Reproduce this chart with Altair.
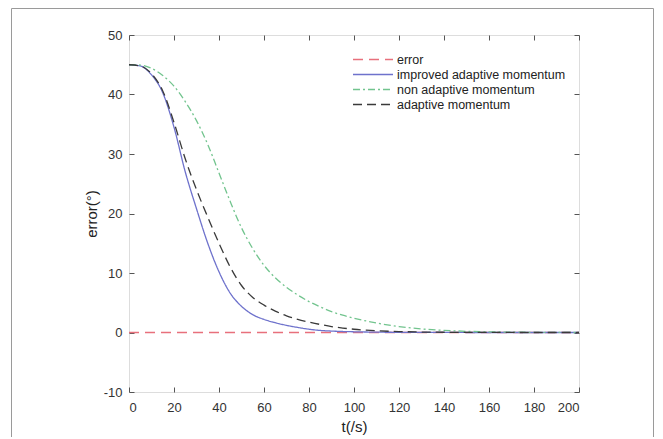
import altair as alt
import pandas as pd

# ---- data ----
t_vals = [0, 5, 10, 15, 20, 25, 30, 35, 40, 45, 50, 55, 60, 65, 70, 75, 80, 85, 90, 95, 100,
          110, 120, 130, 140, 150, 160, 170, 180, 190, 200]

err_ref = [0] * len(t_vals)
improved = [45, 44.8, 43.3, 40.3, 34.5, 27.0, 20.8, 15.0, 10.2, 6.6, 4.4, 3.0, 2.2, 1.65, 1.2,
            0.85, 0.55, 0.35, 0.24, 0.17, 0.12, 0.06, 0.03, 0.015, 0.008, 0.004, 0.002, 0.001, 0, 0, 0]
non_adaptive = [45, 44.95, 44.4, 43.2, 41.4, 38.8, 35.6, 31.6, 26.8, 22.0, 17.6, 14.1, 11.3, 9.2, 7.6,
                6.3, 5.2, 4.3, 3.5, 2.9, 2.4, 1.6, 1.0, 0.6, 0.36, 0.2, 0.11, 0.06, 0.03, 0.015, 0]
adaptive = [45, 44.8, 43.5, 40.6, 35.3, 29.2, 24.0, 19.4, 15.0, 11.0, 7.9, 5.9, 4.6, 3.6, 2.8,
            2.2, 1.75, 1.35, 1.0, 0.75, 0.55, 0.3, 0.16, 0.08, 0.04, 0.02, 0.01, 0.005, 0, 0, 0]

series_names = ["error", "improved adaptive momentum", "non adaptive momentum", "adaptive momentum"]
series_vals = [err_ref, improved, non_adaptive, adaptive]
series_colors = ["#e8707c", "#6e72cc", "#72c48e", "#3a3a3a"]
series_dash = [[10, 6], [1, 0], [7, 3, 2, 3], [9, 5]]

x_ticks = list(range(0, 201, 20))
y_ticks = list(range(-10, 51, 10))

rows = []
for name, vals in zip(series_names, series_vals):
    for i, (t, v) in enumerate(zip(t_vals, vals)):
        rows.append({"t": t, "e": v, "series": name, "order": i})
df = pd.DataFrame(rows)

FONT = "Liberation Sans"
W, H = 450, 357

x_scale = alt.Scale(domain=[0, 200], nice=False, zero=False)
y_scale = alt.Scale(domain=[-10, 50], nice=False, zero=False)

legend_kw = dict(title=None, orient="none", legendX=223, legendY=18,
                 symbolType="stroke", symbolSize=1600, symbolStrokeWidth=1.3,
                 labelFont=FONT, labelFontSize=12.5, labelColor="#222222",
                 labelOffset=3, rowPadding=2, padding=0, clipHeight=13, labelLimit=400)

main = alt.Chart(df).mark_line(interpolate="monotone", strokeWidth=1.3).encode(
    x=alt.X("t:Q", scale=x_scale,
            axis=alt.Axis(orient="bottom", values=x_ticks, title="t(/s)", domain=False, grid=False,
                          offset=-5, tickSize=5, tickColor="#555555", labelPadding=9,
                          labelFont=FONT, labelFontSize=13, labelColor="#333333",
                          titleFont=FONT, titleFontSize=15, titleFontWeight="normal",
                          titleColor="#222222", titleX=225, titleY=32, titleAlign="center",
                          titleBaseline="top")),
    y=alt.Y("e:Q", scale=y_scale,
            axis=alt.Axis(orient="left", values=y_ticks, title="error(°)", domain=False, grid=False,
                          offset=-5, tickSize=5, tickColor="#555555", labelPadding=7,
                          labelExpr="replace(datum.label, '\u2212', '-')",
                          labelFont=FONT, labelFontSize=13, labelColor="#333333",
                          titleFont=FONT, titleFontSize=15, titleFontWeight="normal",
                          titleColor="#222222", titleX=-43, titleY=178.5, titleAlign="center",
                          titleBaseline="middle", titleAngle=-90)),
    color=alt.Color("series:N", scale=alt.Scale(domain=series_names, range=series_colors),
                    legend=alt.Legend(**legend_kw)),
    strokeDash=alt.StrokeDash("series:N", scale=alt.Scale(domain=series_names, range=series_dash),
                              legend=alt.Legend(**legend_kw)),
    order="order:Q",
)

frame = alt.Chart(df).mark_line(opacity=0).encode(
    x=alt.X("t:Q", scale=x_scale,
            axis=alt.Axis(orient="top", values=x_ticks, title=None, labels=False, domain=False,
                          grid=False, offset=-5, tickSize=5, tickColor="#555555")),
    y=alt.Y("e:Q", scale=y_scale,
            axis=alt.Axis(orient="right", values=y_ticks, title=None, labels=False, domain=False,
                          grid=False, offset=-5, tickSize=5, tickColor="#555555")),
    detail="series:N",
)

# thin grey figure border seen around the reference image
border = alt.Chart(pd.DataFrame({"a": [0]})).mark_rect(
    fill="transparent", stroke="#9a9a9a", strokeWidth=1
).encode(x=alt.value(-117.5), x2=alt.value(524.5), y=alt.value(-26.5), y2=alt.value(420))

chart = alt.layer(border, frame, main).resolve_axis(x="independent", y="independent").properties(
    width=W, height=H,
    autosize=alt.AutoSizeParams(type="none"),
    padding={"left": 121, "top": 27, "right": 75, "bottom": 45},
).configure_view(stroke="#555555", strokeWidth=1).configure(background="white")

chart.save("out.html", embed_options={"renderer": "svg", "actions": False})
